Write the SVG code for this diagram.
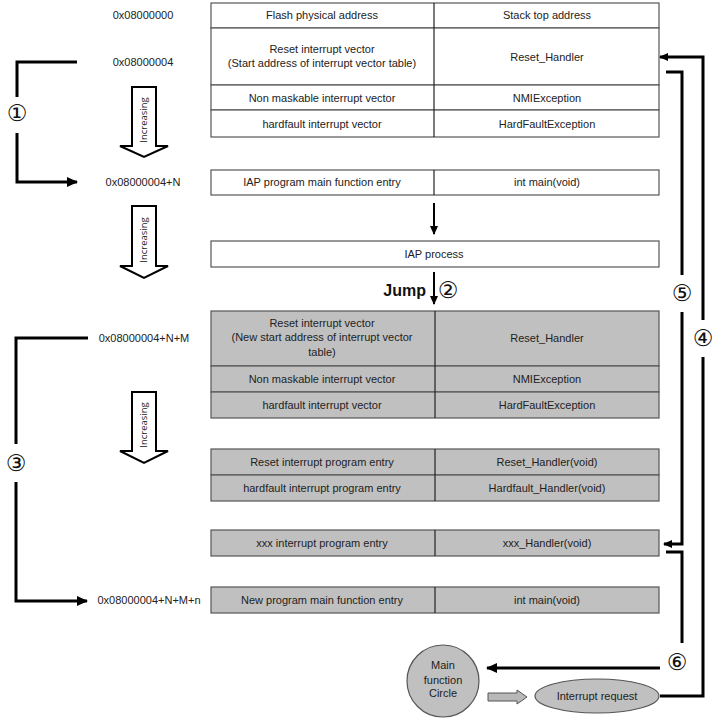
<svg xmlns="http://www.w3.org/2000/svg" width="727" height="720" viewBox="0 0 727 720">
<defs>
<style>
text{font-family:"Liberation Sans",Arial,sans-serif;font-size:11px;fill:#222;text-anchor:middle}
.cell{fill:#fff;stroke:#555;stroke-width:1.2}
.g{fill:#c0c0c0;stroke:#555;stroke-width:1.2}
.div{stroke:#222;stroke-width:1.2}
.ln{fill:none;stroke:#000;stroke-width:3}
.ln2{fill:none;stroke:#000;stroke-width:2}
.num{font-family:"DejaVu Sans",sans-serif;font-size:23px;fill:#111}
.inc{fill:#fff;stroke:#000;stroke-width:2}
.inct{font-family:"Open Sans","Liberation Sans",sans-serif;font-size:9.5px}
</style>
<marker id="ah" markerUnits="userSpaceOnUse" markerWidth="12" markerHeight="10" refX="10" refY="5" orient="auto"><path d="M0,0 L11,5 L0,10 Z" fill="#000"/></marker>
<marker id="ahs" markerUnits="userSpaceOnUse" markerWidth="10" markerHeight="8" refX="8" refY="4" orient="auto"><path d="M0,0 L9,4 L0,8 Z" fill="#000"/></marker>
</defs>

<g id="addresses">
<text x="143" y="19">0x08000000</text>
<text x="143" y="66">0x08000004</text>
<text x="143" y="186">0x08000004+N</text>
<text x="144" y="342">0x08000004+N+M</text>
<text x="149" y="604">0x08000004+N+M+n</text>
</g>

<g id="table1">
<rect class="cell" x="211" y="3" width="448" height="25"/>
<rect class="cell" x="211" y="28" width="448" height="57"/>
<rect class="cell" x="211" y="85" width="448" height="25"/>
<rect class="cell" x="211" y="110" width="448" height="27"/>
<line class="div" x1="434" y1="3" x2="434" y2="137"/>
<text x="322" y="19">Flash physical address</text>
<text x="547" y="19">Stack top address</text>
<text x="322" y="53">Reset interrupt vector</text>
<text x="322" y="67">(Start address of interrupt vector table)</text>
<text x="547" y="61">Reset_Handler</text>
<text x="322" y="102">Non maskable interrupt vector</text>
<text x="547" y="102">NMIException</text>
<text x="322" y="128">hardfault interrupt vector</text>
<text x="547" y="128">HardFaultException</text>
</g>

<g id="iap-main">
<rect class="cell" x="211" y="170" width="448" height="25"/>
<line class="div" x1="434" y1="170" x2="434" y2="195"/>
<text x="322" y="186">IAP program main function entry</text>
<text x="547" y="186">int main(void)</text>
</g>

<g id="iap-process">
<rect class="cell" x="211" y="241" width="448" height="26"/>
<text x="434" y="258">IAP process</text>
</g>

<g id="table2">
<rect class="g" x="211" y="311" width="448" height="55"/>
<rect class="g" x="211" y="366" width="448" height="26"/>
<rect class="g" x="211" y="392" width="448" height="26"/>
<line class="div" x1="435" y1="311" x2="435" y2="418"/>
<text x="322" y="327">Reset interrupt vector</text>
<text x="322" y="341">(New start address of interrupt vector</text>
<text x="322" y="356">table)</text>
<text x="547" y="342">Reset_Handler</text>
<text x="322" y="383">Non maskable interrupt vector</text>
<text x="547" y="383">NMIException</text>
<text x="322" y="409">hardfault interrupt vector</text>
<text x="547" y="409">HardFaultException</text>
</g>

<g id="table3">
<rect class="g" x="211" y="449" width="448" height="26"/>
<rect class="g" x="211" y="475" width="448" height="26"/>
<line class="div" x1="435" y1="449" x2="435" y2="501"/>
<text x="322" y="466">Reset interrupt program entry</text>
<text x="547" y="466">Reset_Handler(void)</text>
<text x="322" y="492">hardfault interrupt program entry</text>
<text x="547" y="492">Hardfault_Handler(void)</text>
</g>

<g id="xxx-row">
<rect class="g" x="211" y="530" width="448" height="26"/>
<line class="div" x1="435" y1="530" x2="435" y2="556"/>
<text x="322" y="547">xxx interrupt program entry</text>
<text x="547" y="547">xxx_Handler(void)</text>
</g>

<g id="new-main">
<rect class="g" x="211" y="587" width="448" height="26"/>
<line class="div" x1="435" y1="587" x2="435" y2="613"/>
<text x="322" y="604">New program main function entry</text>
<text x="547" y="604">int main(void)</text>
</g>

<g id="main-circle">
<circle cx="443" cy="681" r="36" fill="#c0c0c0" stroke="#555" stroke-width="1.2"/>
<text x="443" y="669">Main</text>
<text x="443" y="684">function</text>
<text x="443" y="697">Circle</text>
</g>

<g id="interrupt-request">
<ellipse cx="597" cy="696" rx="62" ry="17" fill="#c0c0c0" stroke="#555" stroke-width="1.2"/>
<text x="597" y="700">Interrupt request</text>
</g>

<g id="increasing">
<polygon class="inc" points="132,87 156,87 156,146 168,146 144,157 120,146 132,146"/>
<text class="inct" transform="translate(147,120) rotate(-90)">Increasing</text>
<polygon class="inc" points="132,206 156,206 156,266 168,266 144,278 120,266 132,266"/>
<text class="inct" transform="translate(147,240) rotate(-90)">Increasing</text>
<polygon class="inc" points="132,392 156,392 156,451 168,451 144,463 120,451 132,451"/>
<text class="inct" transform="translate(147,425) rotate(-90)">Increasing</text>
</g>

<g id="connectors">
<path class="ln" d="M77,62 H17 V97"/>
<path class="ln" d="M17,133 V182 H77" marker-end="url(#ah)"/>
<path class="ln" d="M88,338 H16 V444"/>
<path class="ln" d="M16,482 V601 H87" marker-end="url(#ah)"/>
<path class="ln2" d="M434,203 V234" marker-end="url(#ahs)"/>
<path class="ln2" d="M434,272 V304" marker-end="url(#ahs)"/>
<path class="ln" d="M660,696 H703 V357"/>
<path class="ln" d="M703,320 V57 H660" marker-end="url(#ahs)"/>
<path class="ln" d="M666,72 H682 V275"/>
<path class="ln" d="M682,312 V544 H664" marker-end="url(#ahs)"/>
<path class="ln" d="M666,552 H682 V643"/>
<path class="ln" d="M660,668 H487" marker-end="url(#ah)"/>
<path d="M488,693 H517 V690 L527,697 L517,704 V701 H488 Z" fill="#b8b8b8" stroke="#555" stroke-width="1"/>
</g>

<g id="labels">
<text class="num" x="17" y="121">①</text>
<text class="num" x="448" y="298">②</text>
<text class="num" x="16" y="471">③</text>
<text class="num" x="703" y="346">④</text>
<text class="num" x="682" y="301">⑤</text>
<text class="num" x="677" y="670">⑥</text>
<text x="426" y="296" style="font-size:16px;font-weight:bold;text-anchor:end;fill:#111">Jump</text>
</g>
</svg>
